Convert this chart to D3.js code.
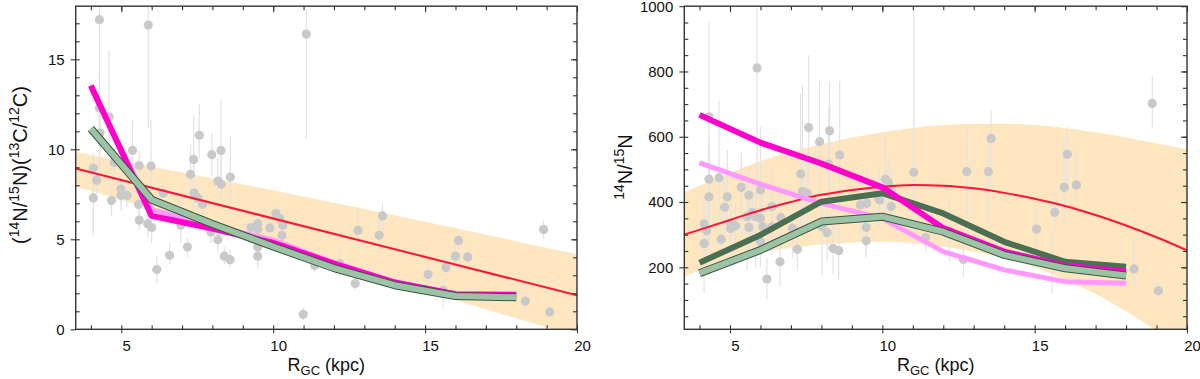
<!DOCTYPE html>
<html>
<head>
<meta charset="utf-8">
<script src="https://cdn.jsdelivr.net/npm/d3@7"></script>
<style>
  body { margin: 0; background: #fff; }
  svg { display: block; font-family: "Liberation Sans", Arial, sans-serif; }
</style>
</head>
<body>
<div id="chart"></div>
<script>
// ---- data ----
// model tracks, galactocentric radius (kpc)
const modelR = [4, 6, 8, 10, 12, 14, 16, 18];

// left panel: (14N/15N)(13C/12C)
const leftMagenta = [13.55, 6.3, 5.6, 4.8, 3.65, 2.6, 1.95, 1.92];
const leftPink = [13.4, 6.65, 5.75, 4.95, 3.7, 2.65, 1.95, 1.92];
const leftGreen = [11.15, 7.2, 5.85, 4.6, 3.4, 2.45, 1.85, 1.78];
const leftFitR = [3.5, 20];
const leftFit = [8.93, 1.89];
const leftBandR = [3.5, 10.5, 20];
const leftBandHi = [9.85, 7.55, 4.17];
const leftBandLo = [7.95, 4.4, -0.4];

// left panel observations: R, value, error low, error high
const leftPtsR = [4.28, 5.89, 4.28, 4.6, 4.3, 5.37, 4.77, 5.59, 5.98, 4.08, 7.57, 7.38, 7.98, 8.28, 4.19, 4.08, 4.68, 4.99, 4.99, 5.19,
  5.57, 5.59, 5.87, 6.0, 6.38, 6.17, 6.59, 6.96, 7.18, 7.28, 7.4, 7.51, 7.68, 7.95, 8.18, 8.29, 8.18, 8.59, 8.39, 8.58,
  9.27, 9.49, 9.49, 9.49, 9.49, 9.89, 10.09, 10.22, 10.31, 10.29, 10.99, 11.37, 12.19, 12.7, 12.79, 13.49, 13.6, 15.1, 15.59, 15.69,
  16.0, 16.1, 16.4, 18.3, 18.9, 19.1, 11.09];
const leftPtsV = [17.2, 16.9, 12.3, 11.8, 10.9, 9.94, 9.26, 9.1, 9.07, 8.96, 10.78, 9.44, 9.7, 9.94, 8.28, 7.3, 7.15, 7.8, 7.44, 7.44,
  6.94, 6.06, 5.87, 5.65, 7.57, 3.32, 4.11, 5.78, 4.57, 8.61, 7.57, 7.3, 6.94, 5.41, 8.24, 8.06, 4.98, 8.46, 4.06, 3.87,
  5.65, 5.87, 5.56, 4.57, 4.06, 5.63, 6.43, 6.15, 5.78, 5.22, 0.83, 3.55, 3.65, 2.54, 5.5, 5.22, 6.3, 3.04, 2.17, 3.43,
  4.07, 4.94, 4.02, 1.57, 5.54, 0.96, 16.4];
const leftPtsLo = [8.5, 11.2, 10.5, 9.5, 9.8, 8.5, 8.5, 8.3, 7.0, 5.2, 9.5, 8.2, 8.5, 8.0, 7.5, 5.5, 6.3, 7.0, 6.6, 6.8,
  6.2, 5.5, 5.1, 4.8, 7.0, 2.5, 3.6, 4.8, 4.0, 7.6, 7.0, 6.5, 6.3, 4.8, 7.5, 7.0, 4.3, 7.0, 3.6, 3.4,
  5.2, 5.4, 5.0, 4.0, 3.4, 5.2, 6.0, 5.6, 5.2, 4.6, 0.5, 3.2, 2.9, 2.2, 4.3, 4.3, 5.5, 2.3, 1.2, 2.8,
  3.5, 4.4, 3.5, 1.0, 5.0, 0.6, 10.6];
const leftPtsHi = [17.9, 17.9, 14.0, 15.5, 12.0, 11.6, 10.0, 9.9, 11.6, 9.8, 12.5, 11.9, 10.9, 12.8, 9.1, 8.2, 8.0, 8.6, 8.3, 8.1,
  7.7, 6.6, 6.6, 6.6, 8.2, 4.1, 4.8, 6.8, 5.1, 10.3, 8.2, 8.1, 7.6, 6.0, 9.5, 9.8, 5.7, 10.7, 4.6, 4.4,
  6.1, 6.4, 6.1, 5.2, 4.6, 6.1, 6.9, 6.7, 6.3, 5.8, 1.2, 3.9, 4.5, 2.9, 6.8, 6.2, 7.0, 3.8, 2.8, 4.1,
  4.8, 5.5, 4.6, 2.0, 6.1, 1.3, 17.8];

// right panel: 14N/15N
const rightMagenta = [667, 582, 518, 445, 320, 248, 205, 187];
const rightPink = [520, 455, 396, 350, 248, 192, 156, 151];
const rightDark = [214, 299, 401, 427, 365, 278, 217, 202];
const rightGreen = [182, 253, 340, 355, 309, 238, 197, 175];
const rightFitR = [3.5, 5, 6, 7, 8, 9, 10, 11, 12, 13, 14, 15, 16, 17, 18, 19, 20];
const rightFit = [300, 345, 375, 400, 422, 437, 447, 452, 450, 442, 428, 410, 388, 360, 328, 292, 252];
const rightBandR = [3.5, 4, 5, 6, 7, 8, 9, 10, 11, 12, 13, 14, 15, 16, 17, 18, 19, 20];
const rightBandHi = [430, 450, 490, 525, 553, 577, 598, 614, 627, 636, 640, 640, 636, 627, 614, 598, 580, 562];
const rightBandLo = [172, 190, 222, 245, 260, 270, 276, 278, 274, 264, 248, 228, 200, 160, 118, 65, 5, -65];

const rightPtsR = [4.31, 4.31, 4.64, 4.31, 4.91, 4.82, 4.15, 4.23, 4.15, 4.71, 5.02, 5.02, 5.18, 5.37, 5.62, 5.56, 5.73, 5.84, 6.0, 5.62,
  6.08, 6.0, 6.0, 6.38, 6.38, 6.64, 6.21, 6.67, 7.05, 7.21, 7.32, 7.38, 7.53, 7.58, 7.94, 8.27, 8.24, 8.6, 8.02, 8.19,
  8.38, 8.57, 9.28, 9.49, 9.47, 9.47, 9.88, 10.1, 10.2, 10.29, 10.29, 9.91, 11.03, 11.42, 12.2, 12.66, 12.77, 13.48, 13.57, 15.06,
  15.57, 15.66, 15.97, 16.07, 16.37, 18.26, 19.06, 18.86, 5.89];
const rightPtsV = [661, 470, 474, 416, 416, 384, 333, 312, 273, 286, 335, 319, 327, 445, 421, 355, 368, 355, 350, 322,
  324, 278, 437, 386, 324, 217, 164, 352, 319, 255, 486, 432, 427, 628, 585, 618, 516, 544, 324, 306,
  258, 251, 391, 396, 322, 281, 411, 470, 459, 435, 386, 406, 491, 291, 312, 224, 493, 493, 595, 317,
  224, 368, 445, 546, 452, 195, 128, 702, 811];
const rightPtsLo = [260, 350, 360, 300, 330, 300, 250, 230, 120, 220, 260, 240, 250, 300, 300, 190, 270, 200, 260, 250,
  250, 200, 300, 300, 240, 140, 100, 260, 230, 190, 330, 300, 320, 450, 420, 440, 400, 420, 170, 220,
  180, 160, 300, 300, 240, 230, 320, 350, 380, 360, 320, 330, 340, 250, 220, 170, 350, 340, 450, 260,
  120, 320, 330, 430, 400, 140, 110, 630, 400];
const rightPtsHi = [950, 600, 710, 560, 560, 470, 420, 400, 330, 360, 420, 400, 400, 550, 500, 450, 470, 430, 450, 400,
  420, 360, 630, 500, 420, 300, 230, 460, 400, 320, 730, 760, 550, 850, 770, 770, 690, 770, 420, 400,
  330, 330, 490, 500, 400, 330, 510, 600, 540, 510, 450, 480, 995, 330, 420, 280, 620, 600, 680, 390,
  310, 420, 590, 630, 560, 290, 160, 785, 995];

const rTicksMajor = [5, 10, 15, 20];
const rTicksMinor = d3.range(4, 21, 1);

// ---- drawing ----
const W = 1200, H = 379;
const svg = d3.select("#chart").append("svg").attr("width", W).attr("height", H);

const C = {
  band: "#fee6c0", point: "#c9c9c9", err: "#e3e3e3", red: "#ff1436",
  magenta: "#ff00cc", pink: "#ff99ff", dark: "#4a6f52", light: "#9dc3a7", edge: "#3b5741", axis: "#333"
};

function panel(opt) {
  const x = d3.scaleLinear().domain([3.5, 20]).range([opt.left, opt.right]);
  const y = d3.scaleLinear().domain(opt.yDomain).range([329.3, 6.2]);
  const g = svg.append("g");

  g.append("clipPath").attr("id", opt.id).append("rect")
    .attr("x", opt.left).attr("y", 6.2).attr("width", opt.right - opt.left).attr("height", 329.3 - 6.2);
  const plot = g.append("g").attr("clip-path", `url(#${opt.id})`);

  // uncertainty band of the fit
  const band = d3.area().x(d => x(d.r)).y0(d => y(d.lo)).y1(d => y(d.hi)).curve(d3.curveMonotoneX);
  plot.append("path")
    .datum(opt.bandR.map((r, i) => ({ r, lo: opt.bandLo[i], hi: opt.bandHi[i] })))
    .attr("d", band).attr("fill", C.band);

  // observations with error bars
  const pts = opt.ptsR.map((r, i) => ({ r, v: opt.ptsV[i], lo: opt.ptsLo[i], hi: opt.ptsHi[i] }));
  plot.selectAll(".err").data(pts).join("line")
    .attr("x1", d => x(d.r)).attr("x2", d => x(d.r))
    .attr("y1", d => y(d.lo)).attr("y2", d => y(d.hi))
    .attr("stroke", C.err).attr("stroke-width", 1.2);
  plot.selectAll(".pt").data(pts).join("circle")
    .attr("cx", d => x(d.r)).attr("cy", d => y(d.v)).attr("r", 4.6)
    .attr("fill", C.point);

  // fit
  const fitLine = d3.line().x(d => x(d[0])).y(d => y(d[1])).curve(d3.curveMonotoneX);
  plot.append("path").datum(opt.fitR.map((r, i) => [r, opt.fit[i]]))
    .attr("d", fitLine).attr("fill", "none").attr("stroke", C.red).attr("stroke-width", 2);

  // model tracks
  const track = d3.line().x(d => x(d[0])).y(d => y(d[1]));
  const draw = (vals, color, w) => plot.append("path")
    .datum(modelR.map((r, i) => [r, vals[i]]))
    .attr("d", track).attr("fill", "none").attr("stroke", color)
    .attr("stroke-width", w).attr("stroke-linejoin", "round");
  draw(opt.pink, C.pink, 5);
  if (opt.dark) draw(opt.dark, C.dark, 6);
  draw(opt.magenta, C.magenta, 6);
  draw(opt.light, C.edge, 8);
  draw(opt.light, C.light, 6);

  // axes: majors cross the frame, minors point inwards
  const b = 329.3, t = 6.2;
  const minorY = opt.yMinor;
  const addAxis = (axis, tr) => {
    const a = g.append("g").attr("transform", tr).call(axis);
    a.select(".domain").remove();
    a.selectAll("line").attr("stroke", C.axis).attr("stroke-width", 1.1);
    return a;
  };
  const xl = addAxis(d3.axisBottom(x).tickValues(rTicksMajor).tickSize(4).tickPadding(7).tickFormat(d3.format("d")), `translate(0,${b})`);
  xl.selectAll("text").attr("dx", 5).attr("font-size", 15).attr("fill", "#111");
  addAxis(d3.axisBottom(x).tickValues(rTicksMinor).tickSize(-4).tickFormat(""), `translate(0,${b})`);
  addAxis(d3.axisTop(x).tickValues(rTicksMinor).tickSize(-4).tickFormat(""), `translate(0,${t})`);
  addAxis(d3.axisTop(x).tickValues(rTicksMajor).tickSize(-6).tickFormat(""), `translate(0,${t})`);
  const yl = addAxis(d3.axisLeft(y).tickValues(opt.yMajor).tickSize(5).tickPadding(6).tickFormat(d3.format("d")), `translate(${opt.left},0)`);
  yl.selectAll("text").attr("font-size", 15).attr("fill", "#111");
  addAxis(d3.axisLeft(y).tickValues(minorY).tickSize(-4).tickFormat(""), `translate(${opt.left},0)`);
  addAxis(d3.axisRight(y).tickValues(minorY).tickSize(-4).tickFormat(""), `translate(${opt.right},0)`);
  addAxis(d3.axisRight(y).tickValues(opt.yMajor).tickSize(-6).tickFormat(""), `translate(${opt.right},0)`);

  g.append("rect").attr("x", opt.left).attr("y", t).attr("width", opt.right - opt.left).attr("height", b - t)
    .attr("fill", "none").attr("stroke", C.axis).attr("stroke-width", 1.4);

  // x title
  const xt = g.append("text").attr("x", (opt.left + opt.right) / 2).attr("y", 371)
    .attr("text-anchor", "middle").attr("font-size", 18).attr("fill", "#111");
  xt.append("tspan").text("R");
  xt.append("tspan").attr("font-size", 13).attr("dy", 4).text("GC");
  xt.append("tspan").attr("dy", -4).text(" (kpc)");

  // y title
  const yt = g.append("text").attr("transform", `translate(${opt.yTitleX},${opt.yTitleY}) rotate(-90)`)
    .attr("text-anchor", "middle").attr("font-size", 20).attr("fill", "#111");
  let up = false;
  opt.yTitle.forEach(([s, sup], i) => {
    const dy = sup ? (up ? 0 : -8) : (up ? 8 : 0);
    up = sup;
    const ts = yt.append("tspan").attr("dy", dy).text(s);
    if (sup) ts.attr("font-size", 14);
  });
}

panel({
  id: "clipL", left: 75.7, right: 577, yDomain: [0, 17.95],
  yMajor: [0, 5, 10, 15], yMinor: d3.range(1, 18, 1),
  bandR: leftBandR, bandHi: leftBandHi, bandLo: leftBandLo,
  ptsR: leftPtsR, ptsV: leftPtsV, ptsLo: leftPtsLo, ptsHi: leftPtsHi,
  fitR: leftFitR, fit: leftFit,
  magenta: leftMagenta, pink: leftPink, light: leftGreen,
  yTitleX: 27, yTitleY: 165,
  yTitle: [["(", false], ["14", true], ["N/", false], ["15", true], ["N)(", false], ["13", true], ["C/", false], ["12", true], ["C)", false]]
});

panel({
  id: "clipR", left: 684.3, right: 1187, yDomain: [10, 1000],
  yMajor: [200, 400, 600, 800, 1000], yMinor: d3.range(50, 1000, 50),
  bandR: rightBandR, bandHi: rightBandHi, bandLo: rightBandLo,
  ptsR: rightPtsR, ptsV: rightPtsV, ptsLo: rightPtsLo, ptsHi: rightPtsHi,
  fitR: rightFitR, fit: rightFit,
  magenta: rightMagenta, pink: rightPink, dark: rightDark, light: rightGreen,
  yTitleX: 632, yTitleY: 167,
  yTitle: [["14", true], ["N/", false], ["15", true], ["N", false]]
});
</script>
</body>
</html>
